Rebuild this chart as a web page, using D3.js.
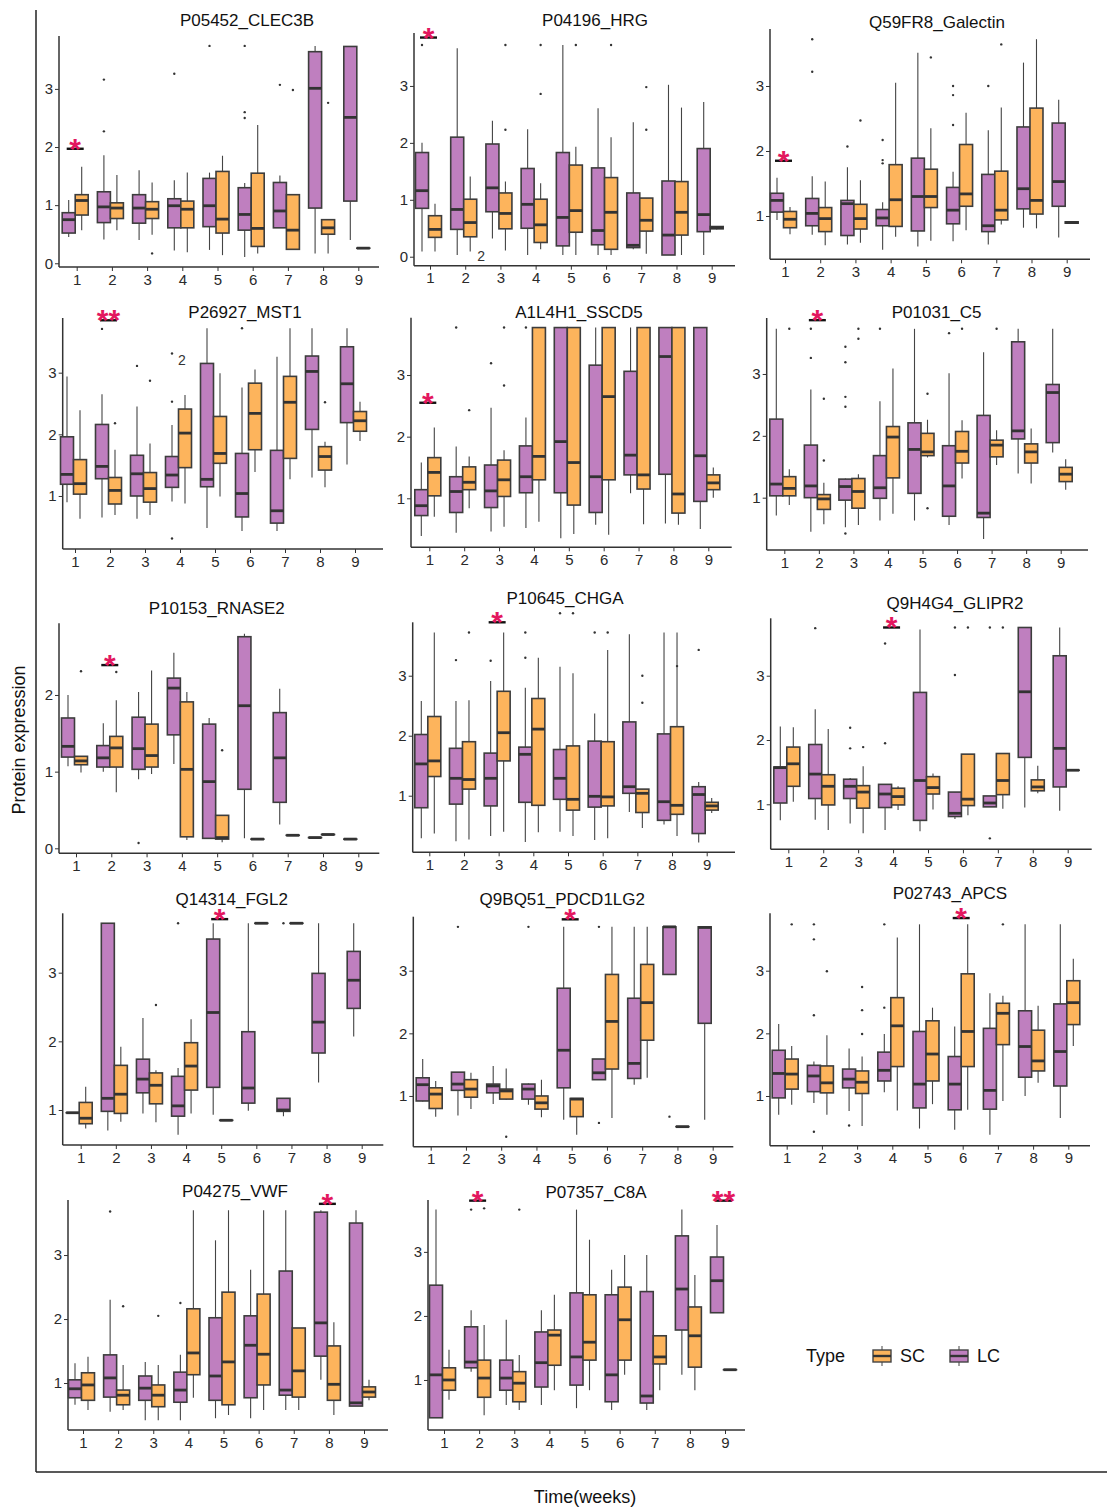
<!DOCTYPE html>
<html>
<head>
<meta charset="utf-8">
<script src="https://cdn.jsdelivr.net/npm/d3@7"></script>
<style>
  body { margin: 0; background: #fff; }
  svg text { font-family: Arial, "Liberation Sans", sans-serif; }
</style>
</head>
<body>
<svg id="chart" width="1107" height="1510"></svg>
<script>
const weeks = [1, 2, 3, 4, 5, 6, 7, 8, 9];
const types = ['SC', 'LC'];
const proteins = ['P05452_CLEC3B', 'P04196_HRG', 'Q59FR8_Galectin',
  'P26927_MST1', 'A1L4H1_SSCD5', 'P01031_C5',
  'P10153_RNASE2', 'P10645_CHGA', 'Q9H4G4_GLIPR2',
  'Q14314_FGL2', 'Q9BQ51_PDCD1LG2', 'P02743_APCS',
  'P04275_VWF', 'P07357_C8A'];

// one box per week: [lower whisker, q1, median, q3, upper whisker]
const lcCLEC3B = [[0.45,0.52,0.75,0.87,1.09],[0.41,0.70,0.97,1.23,1.86],[0.40,0.69,0.95,1.18,1.60],[0.22,0.61,0.99,1.11,1.43],[0.23,0.63,0.99,1.46,1.56],[0.11,0.57,0.84,1.30,1.38],[0.61,0.61,0.90,1.39,1.51],[0.17,0.95,3.01,3.64,3.74],[0.40,1.07,2.51,3.73,3.73]];
const scCLEC3B = [[0.57,0.83,1.08,1.18,1.66],[0.57,0.77,0.95,1.04,1.52],[0.49,0.77,0.93,1.06,1.39],[0.19,0.61,0.93,1.07,1.56],[0.14,0.52,0.76,1.58,1.85],[0.17,0.29,0.60,1.55,2.38],[0.23,0.24,0.57,1.18,1.18],[0.17,0.50,0.61,0.75,0.75],[0.26,0.26,0.26,0.26,0.26]];
const outCLEC3B = [[2,'LC',2.27],[2,'LC',3.16],[3,'SC',0.17],[4,'LC',3.26],[5,'LC',3.74],[6,'LC',2.5],[6,'LC',2.6],[6,'LC',3.74],[7,'LC',3.07],[7,'SC',2.98],[8,'SC',2.76]];

const lcHRG = [[0.09,0.85,1.16,1.83,2.0],[0.03,0.48,0.83,2.10,3.66],[0.32,0.79,1.21,1.98,2.39],[0.03,0.50,0.92,1.55,2.24],[0.03,0.19,0.69,1.83,3.72],[0.03,0.21,0.46,1.56,2.61],[0.13,0.16,0.20,1.12,2.36],[0.03,0.03,0.38,1.33,3.02],[0.03,0.44,0.74,1.90,2.72]];
const scHRG = [[0.09,0.34,0.48,0.72,0.93],[0.09,0.35,0.60,1.01,1.41],[0.11,0.49,0.76,1.12,1.32],[0.13,0.25,0.56,1.01,1.29],[0.03,0.43,0.81,1.61,1.93],[0.03,0.13,0.78,1.39,2.10],[0.05,0.45,0.64,1.03,1.03],[0.03,0.38,0.78,1.32,2.62],[0.48,0.49,0.51,0.53,0.54]];
const outHRG = [[1,'LC',3.72],[3,'SC',2.23],[3,'SC',3.72],[4,'SC',2.86],[4,'SC',3.72],[5,'SC',3.72],[6,'SC',3.72],[7,'SC',2.98],[7,'SC',2.23]];

const lcGalectin = [[0.94,1.06,1.24,1.35,1.59],[0.71,0.85,1.04,1.27,1.61],[0.56,0.70,1.19,1.24,1.75],[0.48,0.85,0.97,1.10,1.21],[0.53,0.77,1.30,1.89,3.51],[0.61,0.88,1.09,1.44,1.68],[0.56,0.76,0.85,1.64,2.32],[0.82,1.11,1.42,2.37,3.36],[0.67,1.15,1.53,2.43,2.79]];
const scGalectin = [[0.72,0.82,0.95,1.07,1.14],[0.55,0.76,0.96,1.13,1.53],[0.59,0.80,0.96,1.18,1.55],[0.68,0.84,1.25,1.79,3.05],[0.62,1.13,1.30,1.72,2.35],[0.78,1.15,1.34,2.10,2.59],[0.87,0.94,1.09,1.69,2.67],[0.81,1.03,1.24,2.66,3.72],[0.88,0.89,0.90,0.91,0.92]];
const outGalectin = [[2,'LC',3.22],[2,'LC',3.72],[3,'LC',2.07],[3,'SC',2.47],[4,'LC',2.17],[4,'LC',1.86],[4,'LC',1.81],[5,'SC',3.44],[6,'LC',3.0],[6,'LC',2.86],[6,'LC',2.4],[7,'LC',3.0],[7,'SC',3.64]];

const lcMST1 = [[0.90,1.19,1.35,1.96,2.94],[0.65,1.28,1.48,2.16,2.65],[0.63,1.00,1.36,1.66,2.45],[0.91,1.14,1.34,1.64,2.15],[0.48,1.15,1.27,3.15,3.72],[0.43,0.66,1.04,1.69,2.76],[0.43,0.56,0.76,1.74,3.26],[1.30,2.08,3.02,3.27,3.72],[1.51,2.19,2.82,3.42,3.72]];
const scMST1 = [[0.63,1.03,1.20,1.59,2.39],[0.69,0.87,1.09,1.30,1.75],[0.69,0.90,1.12,1.38,1.85],[0.88,1.46,2.02,2.41,2.64],[0.99,1.53,1.69,2.29,2.99],[1.39,1.75,2.34,2.83,3.05],[1.27,1.61,2.52,2.94,3.72],[1.14,1.42,1.64,1.80,1.88],[1.89,2.05,2.22,2.37,2.53]];
const outMST1 = [[2,'LC',3.71],[2,'SC',2.18],[3,'LC',3.11],[3,'SC',2.87],[4,'LC',2.53],[4,'LC',0.31],[4,'LC',3.31],[6,'LC',3.72],[8,'SC',2.52]];

const lcSSCD5 = [[0.39,0.72,0.88,1.14,1.58],[0.44,0.77,1.11,1.35,1.84],[0.46,0.85,1.12,1.54,2.47],[0.52,1.09,1.35,1.85,2.31],[0.35,1.09,1.92,3.77,3.77],[0.57,0.77,1.35,3.16,3.77],[1.08,1.38,1.70,3.06,3.77],[0.59,1.39,3.30,3.77,3.77],[0.50,0.95,1.69,3.77,3.77]];
const scSSCD5 = [[0.70,1.04,1.42,1.66,2.15],[0.84,1.14,1.26,1.51,1.68],[0.54,1.03,1.30,1.62,1.78],[0.62,1.30,1.68,3.77,3.77],[0.42,0.89,1.58,3.77,3.77],[0.41,1.30,2.65,3.77,3.77],[0.58,1.15,1.38,3.77,3.77],[0.57,0.76,1.07,3.77,3.77],[1.01,1.14,1.25,1.38,1.50]];
const outSSCD5 = [[2,'LC',3.77],[2,'SC',2.43],[3,'LC',3.19],[3,'SC',3.77],[3,'SC',2.83],[4,'LC',3.77]];

const lcC5 = [[0.71,1.03,1.22,2.27,3.73],[0.45,1.00,1.19,1.85,2.75],[0.52,0.96,1.18,1.30,1.31],[0.63,0.99,1.16,1.68,2.56],[0.63,1.07,1.78,2.21,3.73],[0.56,0.70,1.19,1.84,3.01],[0.33,0.68,0.75,2.33,3.35],[1.39,1.95,2.08,3.52,3.73],[1.73,1.89,2.70,2.83,3.73]];
const scC5 = [[0.88,1.03,1.15,1.34,1.46],[0.57,0.81,0.98,1.05,1.24],[0.56,0.83,1.10,1.31,1.38],[0.74,1.32,1.98,2.15,3.09],[1.65,1.68,1.74,2.04,2.26],[1.31,1.56,1.75,2.07,2.25],[1.53,1.66,1.85,1.93,2.09],[1.23,1.56,1.74,1.87,2.12],[1.13,1.26,1.38,1.49,1.62]];
const outC5 = [[1,'SC',3.73],[2,'LC',3.26],[2,'LC',3.73],[2,'SC',1.6],[2,'SC',2.6],[3,'LC',2.47],[3,'LC',2.63],[3,'LC',3.19],[3,'LC',3.44],[3,'LC',0.42],[3,'SC',3.57],[3,'SC',3.73],[4,'LC',3.73],[5,'SC',2.68],[5,'SC',0.83],[6,'LC',3.66],[6,'SC',3.73],[7,'SC',3.73]];

const lcRNASE2 = [[1.07,1.19,1.33,1.70,2.00],[1.00,1.06,1.18,1.34,1.63],[0.90,1.03,1.30,1.71,2.04],[1.10,1.48,2.09,2.22,2.55],[0.13,0.13,0.87,1.62,1.70],[0.13,0.77,1.86,2.76,2.80],[0.31,0.60,1.18,1.77,2.08],[0.14,0.14,0.14,0.14,0.14],[0.12,0.12,0.12,0.12,0.12]];
const scRNASE2 = [[0.99,1.09,1.14,1.20,1.20],[0.73,1.06,1.31,1.46,1.93],[0.97,1.06,1.21,1.62,2.32],[0.11,0.15,1.03,1.91,2.04],[0.08,0.12,0.14,0.43,0.43],[0.12,0.12,0.12,0.12,0.12],[0.17,0.17,0.17,0.17,0.17],[0.18,0.18,0.18,0.18,0.18],null];
const outRNASE2 = [[1,'SC',2.31],[2,'SC',2.30],[3,'LC',0.07],[5,'SC',1.28]];

const lcCHGA = [[0.29,0.80,1.53,2.02,2.58],[0.24,0.86,1.29,1.79,2.58],[0.33,0.83,1.29,1.71,2.91],[0.23,0.89,1.69,1.81,2.80],[0.40,0.94,1.29,1.77,3.15],[0.26,0.81,0.99,1.91,2.37],[0.73,1.04,1.15,2.23,3.69],[0.52,0.59,0.90,2.03,3.72],[0.22,0.37,1.02,1.15,1.23]];
const scCHGA = [[0.37,1.32,1.58,2.32,3.72],[0.27,1.11,1.27,1.90,2.59],[0.40,1.58,2.05,2.74,3.72],[0.39,0.84,2.11,2.62,3.30],[0.33,0.76,0.94,1.83,3.04],[0.29,0.83,0.98,1.90,3.43],[0.46,0.72,1.04,1.11,1.11],[0.33,0.69,0.84,2.15,3.72],[0.71,0.76,0.83,0.89,0.96]];
const outCHGA = [[2,'LC',3.26],[2,'SC',3.72],[3,'LC',3.25],[4,'LC',3.30],[4,'LC',3.72],[5,'LC',4.04],[5,'SC',4.04],[6,'LC',3.72],[6,'SC',3.72],[7,'SC',3.0],[7,'SC',2.55],[8,'SC',3.16],[9,'LC',3.43]];

const lcGLIPR2 = [[0.75,1.02,1.57,1.58,2.21],[0.76,1.09,1.47,1.93,2.48],[0.70,1.09,1.28,1.39,1.41],[0.60,0.95,1.16,1.31,1.31],[0.58,0.75,1.37,2.74,3.72],[0.77,0.81,0.86,1.19,1.19],[0.96,0.96,1.02,1.13,1.13],[0.95,1.73,2.75,3.75,3.75],[0.90,1.27,1.87,3.31,3.75]];
const scGLIPR2 = [[1.04,1.28,1.63,1.89,2.20],[0.60,0.99,1.28,1.46,2.17],[0.55,0.94,1.19,1.29,1.59],[0.91,0.99,1.12,1.25,1.28],[0.92,1.16,1.26,1.43,1.48],[0.83,0.98,1.08,1.78,1.78],[0.93,1.15,1.37,1.79,1.79],[1.17,1.21,1.27,1.38,1.60],[1.53,1.53,1.53,1.53,1.53]];
const outGLIPR2 = [[2,'LC',3.74],[3,'LC',2.19],[3,'LC',1.87],[3,'SC',1.89],[4,'LC',1.95],[4,'LC',3.50],[6,'LC',3.01],[6,'LC',3.75],[6,'SC',3.75],[7,'LC',0.47],[7,'LC',3.75],[7,'SC',3.75]];

const lcFGL2 = [[0.96,0.96,0.96,0.96,0.96],[0.70,0.98,1.17,3.72,3.72],[0.95,1.25,1.45,1.74,2.34],[0.64,0.91,1.06,1.49,1.61],[0.93,1.33,2.42,3.49,3.72],[0.99,1.10,1.32,2.14,3.72],[0.91,0.98,1.00,1.17,1.17],[1.40,1.83,2.28,2.99,3.72],[2.07,2.48,2.89,3.31,3.72]];
const scFGL2 = [[0.73,0.80,0.88,1.11,1.34],[0.83,0.95,1.23,1.65,1.92],[0.82,1.09,1.36,1.54,1.58],[0.95,1.29,1.64,1.98,2.32],[0.85,0.85,0.85,0.85,0.85],[3.72,3.72,3.72,3.72,3.72],[3.72,3.72,3.72,3.72,3.72],null,null];
const outFGL2 = [[3,'SC',2.53],[4,'LC',3.72],[7,'LC',3.72]];

const lcPDCD1LG2 = [[0.91,0.92,1.18,1.29,1.59],[0.69,1.09,1.19,1.38,1.38],[0.87,1.05,1.16,1.19,1.48],[0.86,0.95,1.11,1.19,1.20],[0.62,1.13,1.73,2.72,3.70],[1.26,1.26,1.37,1.59,1.59],[1.18,1.28,1.52,2.56,3.70],[2.94,2.94,3.70,3.70,3.70],[0.62,2.16,3.69,3.70,3.70]];
const scPDCD1LG2 = [[0.67,0.80,1.03,1.13,1.24],[0.79,0.98,1.11,1.26,1.37],[0.94,0.95,1.08,1.11,1.44],[0.66,0.79,0.89,1.00,1.26],[0.38,0.67,0.95,0.96,0.96],[0.65,1.43,2.19,2.94,3.70],[1.29,1.89,2.49,3.10,3.70],[0.51,0.51,0.51,0.51,0.51],null];
const outPDCD1LG2 = [[2,'LC',3.70],[3,'SC',0.35],[4,'LC',3.70],[6,'LC',3.70],[6,'LC',0.57],[8,'LC',0.67]];

const lcAPCS = [[0.70,0.97,1.36,1.73,2.15],[0.89,1.07,1.32,1.49,1.55],[0.76,1.13,1.27,1.43,1.76],[1.06,1.24,1.41,1.70,1.99],[0.48,0.81,1.19,2.03,3.74],[0.46,0.78,1.19,1.63,2.11],[0.38,0.79,1.09,2.08,2.64],[1.00,1.30,1.79,2.36,3.74],[0.65,1.16,1.71,2.47,3.74]];
const scAPCS = [[0.86,1.11,1.35,1.59,1.80],[0.70,1.05,1.21,1.48,1.97],[0.52,1.04,1.22,1.40,1.63],[0.77,1.47,2.12,2.57,3.53],[0.87,1.24,1.67,2.20,2.41],[0.78,1.47,2.03,2.95,3.74],[0.92,1.82,2.32,2.48,2.60],[1.21,1.40,1.56,2.05,2.44],[1.80,2.14,2.49,2.84,3.19]];
const outAPCS = [[1,'SC',3.74],[2,'LC',2.29],[2,'LC',3.50],[2,'LC',3.74],[2,'LC',0.43],[2,'SC',2.99],[3,'LC',0.53],[3,'SC',1.99],[3,'SC',2.37],[3,'SC',2.74],[4,'LC',2.41],[4,'LC',3.74],[7,'SC',3.74]];

const lcVWF = [[0.66,0.77,0.91,1.05,1.31],[0.55,0.78,1.08,1.44,2.30],[0.42,0.73,0.92,1.11,1.33],[0.42,0.70,0.89,1.17,1.44],[0.45,0.73,1.11,2.02,3.23],[0.45,0.77,1.59,2.05,2.77],[0.58,0.81,0.89,2.75,3.70],[1.05,1.42,1.94,3.67,3.70],[0.64,0.64,0.69,3.50,3.70]];
const scVWF = [[0.58,0.73,0.97,1.16,1.41],[0.58,0.66,0.81,0.89,1.28],[0.42,0.63,0.81,0.97,1.28],[0.77,1.13,1.47,2.16,3.70],[0.50,0.66,1.33,2.42,3.70],[0.58,0.97,1.45,2.39,3.70],[0.58,0.78,1.19,1.86,1.86],[0.50,0.73,0.98,1.58,1.95],[0.73,0.78,0.86,0.94,1.05]];
const outVWF = [[2,'LC',3.68],[2,'SC',2.2],[3,'SC',2.05],[4,'LC',2.25]];

const lcC8A = [[0.41,0.41,1.08,2.48,3.66],[1.13,1.19,1.28,1.83,2.09],[0.61,0.84,1.03,1.31,1.94],[0.61,0.89,1.27,1.75,2.09],[0.56,0.92,1.36,2.36,3.66],[0.53,0.66,1.08,2.33,2.72],[0.53,0.64,0.75,2.38,2.95],[1.08,1.78,2.42,3.25,3.66],[2.05,2.05,2.55,2.92,3.42]];
const scC8A = [[0.69,0.84,1.00,1.19,1.47],[0.45,0.73,1.03,1.31,1.86],[0.53,0.66,0.95,1.13,1.39],[0.84,1.23,1.70,1.78,2.33],[0.84,1.31,1.59,2.33,3.19],[1.08,1.31,1.94,2.45,2.95],[0.84,1.25,1.36,1.69,1.69],[0.84,1.20,1.69,2.14,2.64],[1.16,1.16,1.16,1.16,1.16]];
const outC8A = [[2,'LC',3.66],[2,'SC',3.68],[3,'SC',3.66]];

// significance marks: [panel index, week, bar height, label]
const signif = [[0,1,1.97,'*'],[1,1,3.85,'*'],[2,1,1.85,'*'],[3,2,3.85,'**'],[4,1,2.55,'*'],[5,2,3.87,'*'],
  [6,2,2.39,'*'],[7,3,3.89,'*'],[8,4,3.75,'*'],[9,5,3.78,'*'],[10,5,3.82,'*'],[11,6,3.84,'*'],
  [12,8,3.80,'*'],[13,2,3.80,'*'],[13,9,3.80,'**']];
// stray count labels printed in the source figure: [panel, week, value, dx, text]
const strayLabels = [[1,2,0.01,16,'2'],[3,4,3.2,2,'2']];

const lcData = [lcCLEC3B, lcHRG, lcGalectin, lcMST1, lcSSCD5, lcC5, lcRNASE2, lcCHGA, lcGLIPR2, lcFGL2, lcPDCD1LG2, lcAPCS, lcVWF, lcC8A];
const scData = [scCLEC3B, scHRG, scGalectin, scMST1, scSSCD5, scC5, scRNASE2, scCHGA, scGLIPR2, scFGL2, scPDCD1LG2, scAPCS, scVWF, scC8A];
const outData = [outCLEC3B, outHRG, outGalectin, outMST1, outSSCD5, outC5, outRNASE2, outCHGA, outGLIPR2, outFGL2, outPDCD1LG2, outAPCS, outVWF, outC8A];

// panel geometry in page pixels: y-axis x, x-axis right end, top, bottom, value range, first/last week x, title centre
const layout = [
  {ax:59,    ar:379,    at:36,    ab:267,    lo:-0.064, hi:3.91,  x1:76.7,  x9:358.3,  tx:247,   ty:20,    ticks:[0,1,2,3]},
  {ax:414,   ar:735,    at:33,    ab:265.7,  lo:-0.158, hi:3.93,  x1:430,   x9:711.7,  tx:595,   ty:20,    ticks:[0,1,2,3]},
  {ax:770,   ar:1090,   at:29,    ab:259.3,  lo:0.334,  hi:3.877, x1:785,   x9:1066.7, tx:937,   ty:21.7,  ticks:[1,2,3]},
  {ax:62.7,  ar:383,    at:318,   ab:549,    lo:0.14,   hi:3.887, x1:75,    x9:355,    tx:245,   ty:311.7, ticks:[1,2,3]},
  {ax:411,   ar:731.7,  at:317.7, ab:547.3,  lo:0.205,  hi:3.93,  x1:429.3, x9:708.3,  tx:579,   ty:311.7, ticks:[1,2,3]},
  {ax:766.7, ar:1088,   at:318,   ab:550,    lo:0.154,  hi:3.905, x1:784.3, x9:1060.7, tx:936.7, ty:311.7, ticks:[1,2,3]},
  {ax:59,    ar:379.3,  at:623.3, ab:853.3,  lo:-0.065, hi:2.935, x1:76,    x9:358.3,  tx:216.7, ty:608.3, ticks:[0,1,2]},
  {ax:412.7, ar:735,    at:622.3, ab:852.3,  lo:0.057,  hi:3.89,  x1:429.3, x9:706.7,  tx:565,   ty:597.7, ticks:[1,2,3]},
  {ax:770.7, ar:1091.7, at:618.3, ab:849.3,  lo:0.30,   hi:3.893, x1:788.3, x9:1067.7, tx:955,   ty:603.3, ticks:[1,2,3]},
  {ax:62.7,  ar:383.3,  at:913.3, ab:1145,   lo:0.49,   hi:3.865, x1:80.7,  x9:361.7,  tx:231.7, ty:899.5, ticks:[1,2,3]},
  {ax:413.3, ar:733.3,  at:916.7, ab:1146.7, lo:0.19,   hi:3.862, x1:430.7, x9:712.7,  tx:562.3, ty:899,   ticks:[1,2,3]},
  {ax:770,   ar:1090,   at:913.3, ab:1145.7, lo:0.207,  hi:3.916, x1:786.7, x9:1068.3, tx:950,   ty:893,   ticks:[1,2,3]},
  {ax:68,    ar:388,    at:1200,  ab:1430,   lo:0.266,  hi:3.86,  x1:83,    x9:364,    tx:235,   ty:1191,  ticks:[1,2,3]},
  {ax:428,   ar:745,    at:1200,  ab:1430,   lo:0.219,  hi:3.81,  x1:444,   x9:725,    tx:596,   ty:1192,  ticks:[1,2,3]}
];

const colors = {LC: '#BF7FBF', SC: '#FDB45C'};
const boxW = 13;
const fontFam = 'Arial, "Liberation Sans", sans-serif';

const svg = d3.select('#chart');
svg.append('rect').attr('width', 1107).attr('height', 1510).attr('fill', '#fff');

proteins.forEach((name, i) => drawPanel(i));

function drawPanel(i) {
  const L = layout[i];
  const g = svg.append('g');
  const x = d3.scalePoint().domain(weeks).range([L.x1, L.x9]);
  const y = d3.scaleLinear().domain([L.lo, L.hi]).range([L.ab, L.at]);
  const centre = (w, type) => x(w) - 1.5 + (type === 'LC' ? -boxW / 2 : boxW / 2);

  const yAxis = g.append('g').attr('transform', `translate(${L.ax},0)`)
    .call(d3.axisLeft(y).tickValues(L.ticks).tickFormat(d3.format('d')).tickSize(4).tickPadding(2));
  const xAxis = g.append('g').attr('transform', `translate(0,${L.ab})`)
    .call(d3.axisBottom(x).tickSize(4).tickPadding(3));
  [yAxis, xAxis].forEach(a => {
    a.select('.domain').remove();
    a.attr('font-size', 15).attr('font-family', fontFam);
    a.selectAll('text').attr('fill', '#2a2a2a');
    a.selectAll('line').attr('stroke', '#333');
  });
  g.append('line').attr('x1', L.ax).attr('x2', L.ax).attr('y1', L.at).attr('y2', L.ab)
    .attr('stroke', '#333').attr('stroke-width', 1.5);
  g.append('line').attr('x1', L.ax).attr('x2', L.ar).attr('y1', L.ab).attr('y2', L.ab)
    .attr('stroke', '#333').attr('stroke-width', 1.5);

  g.append('text').attr('x', L.tx).attr('y', L.ty).attr('dy', '0.35em')
    .attr('text-anchor', 'middle').attr('font-size', 17).attr('fill', '#111')
    .text(proteins[i]);

  const boxes = [];
  weeks.forEach((w, k) => {
    if (lcData[i][k]) boxes.push({w, type: 'LC', s: lcData[i][k]});
    if (scData[i][k]) boxes.push({w, type: 'SC', s: scData[i][k]});
  });

  const bg = g.selectAll('g.box').data(boxes).enter().append('g').attr('class', 'box');
  bg.append('line')
    .attr('x1', d => centre(d.w, d.type)).attr('x2', d => centre(d.w, d.type))
    .attr('y1', d => y(d.s[0])).attr('y2', d => y(d.s[4]))
    .attr('stroke', '#444').attr('stroke-width', 1.1);
  bg.append('rect')
    .attr('x', d => centre(d.w, d.type) - boxW / 2).attr('width', boxW)
    .attr('y', d => y(d.s[3])).attr('height', d => Math.max(0.01, y(d.s[1]) - y(d.s[3])))
    .attr('fill', d => colors[d.type]).attr('stroke', '#3d3d3d').attr('stroke-width', 1.6);
  bg.append('line')
    .attr('x1', d => centre(d.w, d.type) - boxW / 2).attr('x2', d => centre(d.w, d.type) + boxW / 2)
    .attr('y1', d => y(d.s[2])).attr('y2', d => y(d.s[2]))
    .attr('stroke', '#333').attr('stroke-width', 2.8);

  g.selectAll('circle.out').data(outData[i]).enter().append('circle').attr('class', 'out')
    .attr('cx', d => centre(d[0], d[1])).attr('cy', d => y(d[2])).attr('r', 1.2)
    .attr('fill', '#333');

  signif.filter(s => s[0] === i).forEach(s => {
    const c = x(s[1]) - 1.5;
    g.append('line').attr('x1', c - 8.5).attr('x2', c + 8.5).attr('y1', y(s[2])).attr('y2', y(s[2]))
      .attr('stroke', '#111').attr('stroke-width', 2.4);
    g.append('text').attr('x', c).attr('y', y(s[2]) + 10).attr('text-anchor', 'middle')
      .attr('font-size', 30).attr('font-weight', 'bold').attr('fill', '#E3175F').text(s[3]);
  });

  strayLabels.filter(s => s[0] === i).forEach(s => {
    g.append('text').attr('x', x(s[1]) + s[3]).attr('y', y(s[2])).attr('dy', '0.35em')
      .attr('text-anchor', 'middle').attr('font-size', 14).attr('fill', '#333').text(s[4]);
  });
}

// outer frame axes and titles
svg.append('line').attr('x1', 36).attr('x2', 36).attr('y1', 10).attr('y2', 1472)
  .attr('stroke', '#222').attr('stroke-width', 1.5);
svg.append('line').attr('x1', 36).attr('x2', 1107).attr('y1', 1472).attr('y2', 1472)
  .attr('stroke', '#222').attr('stroke-width', 1.5);
svg.append('text').attr('transform', 'translate(19,740) rotate(-90)').attr('dy', '0.35em')
  .attr('text-anchor', 'middle').attr('font-size', 18).attr('fill', '#111').text('Protein expression');
svg.append('text').attr('x', 585).attr('y', 1497).attr('dy', '0.35em')
  .attr('text-anchor', 'middle').attr('font-size', 18).attr('fill', '#111').text('Time(weeks)');

// legend
const legend = svg.append('g').attr('transform', 'translate(806,1356)');
legend.append('text').attr('x', 0).attr('dy', '0.35em').attr('font-size', 18).attr('fill', '#111').text('Type');
types.forEach((t, k) => {
  const lx = 67 + k * 77;
  const key = legend.append('g').attr('transform', `translate(${lx},0)`);
  key.append('line').attr('x1', 9).attr('x2', 9).attr('y1', -10).attr('y2', 10).attr('stroke', '#444');
  key.append('rect').attr('x', 0).attr('y', -6).attr('width', 18).attr('height', 12)
    .attr('fill', colors[t]).attr('stroke', '#444').attr('stroke-width', 1.4);
  key.append('line').attr('x1', 0).attr('x2', 18).attr('y1', 0).attr('y2', 0)
    .attr('stroke', '#333').attr('stroke-width', 2.4);
  key.append('text').attr('x', 27).attr('dy', '0.35em').attr('font-size', 18).attr('fill', '#111').text(t);
});
</script>
</body>
</html>
